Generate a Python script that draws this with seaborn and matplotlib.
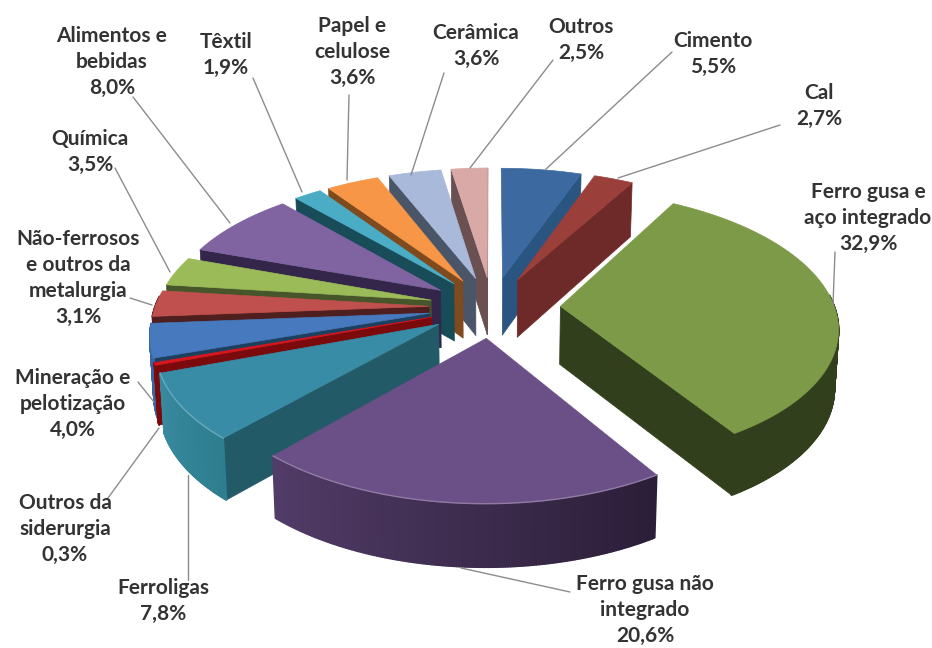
import numpy as np
import matplotlib
matplotlib.use("Agg")
import matplotlib.pyplot as plt
from matplotlib.patches import Polygon
from matplotlib.colors import to_rgb
import seaborn as sb

"""
Exploded pseudo-3D pie: ax.pie gives the wedge geometry, which is then put through a
small perspective projection and extruded downwards.
"""

sectors = ["Cimento", "Cal", "Ferro gusa e\naço integrado", "Ferro gusa não\nintegrado", "Ferroligas",
           "Outros da\nsiderurgia", "Mineração e\npelotização", "Não-ferrosos\ne outros da\nmetalurgia",
           "Química", "Alimentos e\nbebidas", "Têxtil", "Papel e\ncelulose", "Cerâmica", "Outros"]
shares = [5.5, 2.7, 32.9, 20.6, 7.8, 0.3, 4.0, 3.1, 3.5, 8.0, 1.9, 3.6, 3.6, 2.5]
explode = [0.23, 0.23, 0.25, 0.23, 0.23, 0.23, 0.23, 0.23, 0.23, 0.23, 0.23, 0.23, 0.23, 0.23]

top_colors = ["#3C6AA0", "#9A3F3A", "#7D9A48", "#6B4F87", "#388CA6", "#D8161E", "#4679BD",
              "#C0504D", "#9BBB59", "#8064A2", "#4BACC6", "#F79646", "#A9B9DA", "#D9A9A8"]
face_colors = ["#2A5580", "#6E2A28", "#323F1C", "#4E3960", "#235A68", "#7A0A0C", "#1E3F5E",
               "#4E1F1E", "#46552A", "#33264A", "#174C58", "#7E4A1E", "#4A5568", "#6A5050"]
# rim colour at the low-angle end and at the high-angle end of each wedge
rim_a = ["#2A5580", "#6E2A28", "#323F1C", "#523C68", "#3A8AA0", "#7A0A0C", "#3A66A0",
         "#4E1F1E", "#46552A", "#33264A", "#174C58", "#7E4A1E", "#4A5568", "#6A5050"]
rim_b = ["#2A5580", "#6E2A28", "#323F1C", "#2B1E38", "#2E7E90", "#7A0A0C", "#3A66A0",
         "#4E1F1E", "#46552A", "#33264A", "#174C58", "#7E4A1E", "#4A5568", "#6A5050"]
highlighted = ["Ferro gusa não\nintegrado", "Ferroligas"]

# label anchor in pixels, then leader line
label_pos = [(713, 54), (819, 106), (868, 218), (645, 610), (163, 601), (65, 529), (73, 404),
             (78, 278), (90, 152), (112, 62), (226, 55), (352, 52), (476, 46), (581, 40)]
leaders = [[(672, 52), (545, 170)], [(780, 125), (618, 178)], [(835, 252), (833, 305)],
           [(461, 568), (570, 592)], [(188, 475), (188, 580)], [(159, 428), (108, 498)],
           [(138, 382), (154, 402)], [(130, 298), (152, 305)], [(115, 168), (170, 272)],
           [(133, 97), (230, 223)], [(253, 78), (302, 192)], [(349, 95), (347, 180)],
           [(444, 73), (411, 175)], [(553, 60), (470, 168)]]

cx, cy = 492, 307
rx, ry = 274, 132.5
k = 0.14
height = 58
k_h = 0.07


def project(u, v, z=0.0):
    """Unit-disc coordinates to pixels, z = 1 is the bottom of the pie."""
    d = 1 + k * v
    x = cx + rx * u / d * (1 - 0.012 * z)
    y = cy - ry * v / d + z * height / (1 + k_h * v)
    return x, y


def mix(c1, c2, f):
    return tuple((1 - f) * np.array(to_rgb(c1)) + f * np.array(to_rgb(c2)))


sb.set_theme(style="white")
plt.rcParams["font.family"] = ["Lato", "DejaVu Sans"]

fig = plt.figure(figsize=(9.32, 6.48), dpi=100)
ax = fig.add_axes([0, 0, 1, 1])

wedges, _ = ax.pie(shares, explode=explode, startangle=90, counterclock=False, radius=1)
geom = [(w.center, w.r, w.theta1, w.theta2) for w in wedges]
for w in wedges:
    w.remove()

ax.set_aspect("auto")
ax.set_xlim(0, 932)
ax.set_ylim(648, 0)
ax.axis("off")


def add_poly(pts, color, lw=0.5):
    ax.add_patch(Polygon(pts, closed=True, facecolor=color, edgecolor=color, linewidth=lw, joinstyle="round"))


# back wedges first, the ones nearest the viewer last
mids = [np.radians((g[2] + g[3]) / 2) for g in geom]
order = sorted(range(len(geom)), key=lambda i: -np.sin(mids[i]))

for i in order:
    (c0, c1), r, t1, t2 = geom[i]
    ts = np.radians(np.linspace(t1, t2, max(int(t2 - t1), 2) * 2 + 1))
    us = c0 + r * np.cos(ts)
    vs = c1 + r * np.sin(ts)

    # radial walls
    for t, vis in ((np.radians(t1), np.cos(np.radians(t1)) > 0), (np.radians(t2), np.cos(np.radians(t2)) < 0)):
        if vis:
            ue, ve = c0 + r * np.cos(t), c1 + r * np.sin(t)
            add_poly([project(c0, c1), project(ue, ve), project(ue, ve, 1), project(c0, c1, 1)], face_colors[i])

    # rim, a strip at a time
    for j in range(len(ts) - 1):
        if np.sin(ts[j]) < 0.08:
            f = j / max(len(ts) - 2, 1)
            col = mix(rim_a[i], rim_b[i], f)
            add_poly([project(us[j], vs[j]), project(us[j + 1], vs[j + 1]),
                      project(us[j + 1], vs[j + 1], 1), project(us[j], vs[j], 1)], col, lw=1.3)

    # top
    pts = [project(c0, c1)] + [project(a, b) for a, b in zip(us, vs)]
    add_poly(pts, top_colors[i])

    # soft light line along the front of the arc
    front = np.sin(ts) < 0
    if sectors[i] in highlighted and front.sum() > 1:
        px = [project(a, b) for a, b in zip(us[front], vs[front])]
        ax.plot(*zip(*px), color=mix(top_colors[i], "#FFFFFF", 0.25), lw=1.0, solid_capstyle="round")

# leader lines and labels
for line in leaders:
    ax.plot(*zip(*line), color="#8C8C8C", lw=1.0, zorder=5)

for name, share, (x, y) in zip(sectors, shares, label_pos):
    txt = "%s\n%s%%" % (name, ("%.1f" % share).replace(".", ","))
    ax.text(x, y, txt, ha="center", va="center", fontsize=15, fontweight="bold", color="#333333",
            linespacing=1.36, zorder=6)

fig.savefig("out.png", dpi=100, facecolor="white")
